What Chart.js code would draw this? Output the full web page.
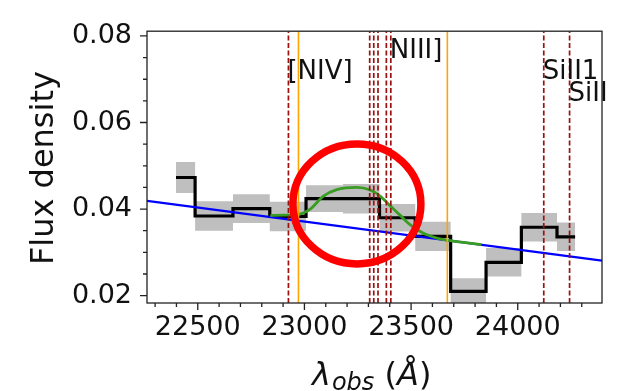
<!DOCTYPE html>
<html><head><meta charset="utf-8">
<script src="https://cdn.jsdelivr.net/npm/chart.js@4.4.1/dist/chart.umd.min.js"></script>
<style>html,body{margin:0;padding:0;background:#fff;} canvas{display:block;}</style>
</head><body>
<canvas id="c" width="621" height="391"></canvas>
<script>
// ---- data ----
const wavelength = [22398, 22577, 22753, 22922, 23093, 23268, 23436, 23603, 23768, 23935, 24099, 24269];
const flux       = [0.0473, 0.0384, 0.0401, 0.0383, 0.0424, 0.0424, 0.0380, 0.0337, 0.0210, 0.0277, 0.0358, 0.0336];
const fluxErr    = [0.0036, 0.0034, 0.0033, 0.0034, 0.0031, 0.0034, 0.0032, 0.0034, 0.0030, 0.0033, 0.0033, 0.0033];
const continuumX = [22262, 24395];
const continuumY = [0.0419, 0.0281];
const modelX = [22840, 22900, 22964, 23027, 23089, 23152, 23245, 23308, 23355, 23401, 23448, 23495, 23558, 23620, 23667, 23745, 23830];
const modelY = [0.0385, 0.0386, 0.0387, 0.0400, 0.0430, 0.0445, 0.0450, 0.0444, 0.0430, 0.0408, 0.0386, 0.0364, 0.0344, 0.0333, 0.0328, 0.0323, 0.0318];
const orangeLines = [22972, 23670];
const redLines = [22925, 23306, 23325, 23345, 23384, 23405, 24122, 24243];
const lineLabels = ['[NIV]', 'NIII]', 'SiII1', 'SiII'];
const labelX = [22925, 23405, 24122, 24243];
const labelY = [0.070, 0.075, 0.070, 0.065];
const xTickValues = [22500, 23000, 23500, 24000];
const xTickLabels = ['22500', '23000', '23500', '24000'];
const yTickValues = [0.02, 0.04, 0.06, 0.08];
const yTickLabels = ['0.02', '0.04', '0.06', '0.08'];
const xLimits = [22262, 24395];
const yLimits = [0.0183, 0.0811];
const circleCenter = [23246, 0.0412];

// ---- helpers ----
const majorIdx = (vals, v, tol) => vals.findIndex(t => Math.abs(t - v) < tol);
const pts = (xs, ys) => xs.map((x, i) => ({x, y: ys[i]}));

Chart.defaults.font.family = '"DejaVu Sans", sans-serif';
Chart.defaults.color = '#111';

const datasets = [
  {label: 'upper', data: pts(wavelength, flux.map((f, i) => f + fluxErr[i])), stepped: 'middle',
   borderWidth: 0, pointRadius: 0, fill: '+1', backgroundColor: 'rgba(128,128,128,0.5)', order: 10},
  {label: 'lower', data: pts(wavelength, flux.map((f, i) => f - fluxErr[i])), stepped: 'middle',
   borderWidth: 0, pointRadius: 0, fill: false, order: 10},
  {label: 'flux', data: pts(wavelength, flux), stepped: 'middle', borderColor: '#000', borderWidth: 3.2,
   pointRadius: 0, fill: false, order: 6},
  {label: 'continuum', data: pts(continuumX, continuumY), borderColor: '#0000ff', borderWidth: 2.2,
   pointRadius: 0, fill: false, order: 5},
  {label: 'model', data: pts(modelX, modelY), borderColor: '#3a9d23', borderWidth: 2.8,
   cubicInterpolationMode: 'monotone', pointRadius: 0, fill: false, order: 4},
];
redLines.forEach(v => datasets.push({data: [{x: v, y: yLimits[0]}, {x: v, y: yLimits[1]}],
  borderColor: '#9b1010', borderWidth: 1.7, borderDash: [5, 2.5], pointRadius: 0, fill: false, order: 3}));
orangeLines.forEach(v => datasets.push({data: [{x: v, y: yLimits[0]}, {x: v, y: yLimits[1]}],
  borderColor: '#ffa500', borderWidth: 1.6, pointRadius: 0, fill: false, order: 2}));

const decor = {
  id: 'decor',
  afterDraw(chart) {
    const {ctx, chartArea: a, scales: {x, y}} = chart;
    ctx.save();
    // tick marks
    ctx.strokeStyle = '#222'; ctx.lineWidth = 1.3;
    ctx.beginPath();
    x.ticks.forEach(t => {
      const p = x.getPixelForValue(t.value);
      const L = majorIdx(xTickValues, t.value, 1e-6) >= 0 ? 7 : 4;
      ctx.moveTo(p, a.bottom); ctx.lineTo(p, a.bottom + L);
    });
    y.ticks.forEach(t => {
      const p = y.getPixelForValue(t.value);
      const L = majorIdx(yTickValues, t.value, 1e-9) >= 0 ? 7 : 4;
      ctx.moveTo(a.left, p); ctx.lineTo(a.left - L, p);
    });
    ctx.stroke();
    // frame
    ctx.strokeRect(a.left, a.top, a.right - a.left, a.bottom - a.top);
    // line labels
    ctx.fillStyle = '#111';
    ctx.font = '26px "DejaVu Sans"';
    ctx.textAlign = 'left'; ctx.textBaseline = 'alphabetic';
    lineLabels.forEach((s, i) => ctx.fillText(s, x.getPixelForValue(labelX[i]) - 1, y.getPixelForValue(labelY[i])));
    // y title
    ctx.save();
    ctx.translate(53, (a.top + a.bottom) / 2 + 1);
    ctx.rotate(-Math.PI / 2);
    ctx.textAlign = 'center';
    ctx.font = '32px "DejaVu Sans"';
    ctx.fillText('Flux density', 0, 0);
    ctx.restore();
    // x title: λ_obs (Å)
    let cx = 312; const by = 385;
    ctx.textAlign = 'left';
    ctx.font = 'italic 32px "DejaVu Sans"';
    ctx.fillText('λ', cx, by); cx += ctx.measureText('λ').width + 1;
    ctx.font = 'italic 24px "DejaVu Sans"';
    ctx.fillText('obs', cx, by + 5); cx += ctx.measureText('obs').width;
    ctx.font = '32px "DejaVu Sans"';
    ctx.fillText(' (', cx, by); cx += ctx.measureText(' (').width;
    ctx.font = 'italic 32px "DejaVu Sans"';
    ctx.fillText('Å', cx, by); cx += ctx.measureText('Å').width;
    ctx.font = '32px "DejaVu Sans"';
    ctx.fillText(')', cx, by);
    // red circle annotation
    ctx.strokeStyle = '#ff0000'; ctx.lineWidth = 7.5;
    ctx.beginPath();
    ctx.ellipse(x.getPixelForValue(circleCenter[0]), y.getPixelForValue(circleCenter[1]), 64, 60, 0, 0, Math.PI * 2);
    ctx.stroke();
    ctx.restore();
  }
};

new Chart(document.getElementById('c'), {
  type: 'line',
  data: {datasets},
  options: {
    responsive: false, animation: false, devicePixelRatio: 1,
    layout: {padding: {left: 0, right: 19, top: 15, bottom: 0}},
    plugins: {legend: {display: false}, tooltip: {enabled: false}},
    scales: {
      x: {type: 'linear', min: xLimits[0], max: xLimits[1],
          grid: {display: false, drawTicks: false}, border: {display: false},
          ticks: {stepSize: 100, includeBounds: false, maxRotation: 0, autoSkip: false, padding: 9,
                  font: {size: 27}, color: '#111',
                  callback: v => { const i = majorIdx(xTickValues, v, 1e-6); return i >= 0 ? xTickLabels[i] : ''; }},
          afterFit: s => { s.height = 88; }},
      y: {type: 'linear', min: yLimits[0], max: yLimits[1],
          grid: {display: false, drawTicks: false}, border: {display: false},
          ticks: {stepSize: 0.005, includeBounds: false, autoSkip: false, padding: 15,
                  font: {size: 27}, color: '#111',
                  callback: v => { const i = majorIdx(yTickValues, v, 1e-9); return i >= 0 ? yTickLabels[i] : ''; }},
          afterFit: s => { s.width = 147; }}
    }
  },
  plugins: [decor]
});
</script>
</body></html>
